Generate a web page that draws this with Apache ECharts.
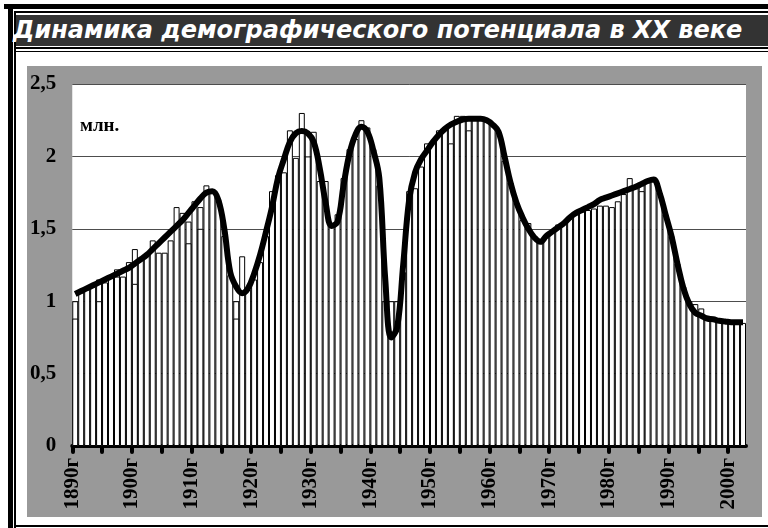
<!DOCTYPE html>
<html>
<head>
<meta charset="utf-8">
<script src="https://cdn.jsdelivr.net/npm/echarts@6/dist/echarts.min.js"></script>
<style>
  body { margin: 0; width: 768px; height: 528px; background: #fff; position: relative; overflow: hidden; }
  .ln { position: absolute; background: #000; }
  #head { position: absolute; left: 16px; top: 15px; width: 752px; height: 31px; background: #333;
          color: #fff; font: italic bold 24px "DejaVu Sans"; line-height: 31px; white-space: nowrap; }
  #head span { position: relative; left: -3px; }
  #chart { position: absolute; left: 27px; top: 66px; width: 735px; height: 451px; }
</style>
</head>
<body>
<div class="ln" style="left:4px;top:4px;width:764px;height:5px"></div>
<div class="ln" style="left:8px;top:4px;width:5px;height:524px"></div>
<div class="ln" style="left:14px;top:11px;width:754px;height:2px"></div>
<div class="ln" style="left:14px;top:11px;width:2px;height:517px"></div>
<div id="head"><span>Динамика демографического потенциала в XX веке</span></div>
<div class="ln" style="left:14px;top:47px;width:754px;height:2px"></div>
<div class="ln" style="left:14px;top:51px;width:754px;height:1px"></div>
<div class="ln" style="left:14px;top:525px;width:754px;height:2px"></div>
<div id="chart"></div>
<script>
var myChart = echarts.init(document.getElementById('chart'));

// годы 1890..2002
var years = [];
for (var y = 1890; y <= 2002; y++) years.push(y);

// высота столбцов (млн.)
var barTop = [
    1.00, 1.06, 1.08, 1.10, 1.15, 1.13, 1.17, 1.22, 1.17, 1.27,
    1.36, 1.29, 1.32, 1.42, 1.335, 1.335, 1.42, 1.65, 1.61, 1.55,
    1.69, 1.65, 1.80, 1.76, 1.70, 1.45, 1.18, 1.00, 1.31, 1.08,
    1.15, 1.27, 1.45, 1.76, 1.87, 1.89, 2.18, 1.99, 2.30, 2.17,
    2.17, 1.83, 1.83, 1.52, 1.60, 1.85, 2.05, 2.12, 2.25, 2.20,
    2.05, 1.80, 1.00, 1.00, 1.00, 1.20, 1.76, 1.78, 1.93, 2.09,
    2.10, 2.18, 2.20, 2.22, 2.28, 2.28, 2.27, 2.27, 2.26, 2.24,
    2.22, 2.17, 1.97, 1.82, 1.68, 1.56, 1.54, 1.45, 1.42, 1.44,
    1.48, 1.53, 1.54, 1.57, 1.60, 1.62, 1.63, 1.64, 1.66, 1.66,
    1.65, 1.69, 1.74, 1.85, 1.78, 1.80, 1.82, 1.83, 1.75, 1.60,
    1.45, 1.26, 1.10, 1.00, 0.98, 0.95, 0.90, 0.88, 0.87, 0.86,
    0.85, 0.85, 0.85
];

// вторые (нижние) значения в отдельные годы
var innerYears  = [1890, 1894, 1897, 1900, 1909, 1911, 1917, 1929, 1953, 1956, 1985];
var innerValues = [0.88, 1.00, 1.17, 1.12, 1.40, 1.50, 0.88, 2.00, 2.09, 2.18, 1.76];

// сглаженная кривая
var trend = [
    1.05, 1.07, 1.09, 1.11, 1.13, 1.15, 1.17, 1.19, 1.21, 1.23,
    1.26, 1.29, 1.32, 1.36, 1.40, 1.44, 1.48, 1.52, 1.56, 1.61,
    1.66, 1.71, 1.75, 1.76, 1.70, 1.50, 1.20, 1.10, 1.055, 1.09,
    1.19, 1.32, 1.48, 1.65, 1.85, 1.98, 2.10, 2.16, 2.175, 2.16,
    2.10, 1.92, 1.68, 1.52, 1.55, 1.80, 2.02, 2.15, 2.205, 2.17,
    2.04, 1.85, 1.15, 0.75, 0.82, 1.25, 1.70, 1.89, 1.98, 2.04,
    2.10, 2.15, 2.19, 2.22, 2.24, 2.255, 2.26, 2.26, 2.26, 2.25,
    2.22, 2.17, 2.00, 1.82, 1.68, 1.58, 1.50, 1.44, 1.41, 1.45,
    1.48, 1.51, 1.54, 1.58, 1.61, 1.63, 1.65, 1.67, 1.70, 1.715,
    1.73, 1.745, 1.76, 1.775, 1.79, 1.81, 1.83, 1.84, 1.75, 1.60,
    1.45, 1.26, 1.09, 0.98, 0.92, 0.90, 0.88, 0.875, 0.865, 0.86,
    0.855, 0.855, 0.855
];

var tickYears  = [1890, 1895, 1900, 1905, 1910, 1915, 1920, 1925, 1930, 1935, 1940, 1945,
                  1950, 1955, 1960, 1965, 1970, 1975, 1980, 1985, 1990, 1995, 2000];
var labelYears = [1890, 1900, 1910, 1920, 1930, 1940, 1950, 1960, 1970, 1980, 1990, 2000];

var innerData = years.map(function (yr) {
    var i = innerYears.indexOf(yr);
    return i < 0 ? null : innerValues[i];
});

var serif = '"Liberation Serif", "Times New Roman", serif';
var barStyle = { color: '#fff', borderColor: '#000', borderWidth: 1 };

option = {
    backgroundColor: '#999999',
    animation: false,
    title: {
        text: 'млн.',
        left: 53,
        top: 51,
        padding: 0,
        textStyle: { fontFamily: serif, fontWeight: 'bold', fontSize: 19, color: '#000' }
    },
    grid: {
        left: 45, top: 18, width: 674, height: 362,
        show: true, backgroundColor: '#fff', borderWidth: 0
    },
    xAxis: [
        {
            type: 'category',
            data: years,
            position: 'top',
            boundaryGap: true,
            axisLine: { lineStyle: { color: '#000', width: 1.5 } },
            axisTick: { show: false },
            axisLabel: { show: false }
        },
        {
            type: 'value',
            position: 'bottom',
            min: 1890,
            max: 2003,
            axisLine: { onZero: false, lineStyle: { color: '#000', width: 4 } },
            axisTick: {
                customValues: tickYears,
                length: 6,
                lineStyle: { color: '#000', width: 4, cap: 'round' }
            },
            axisLabel: {
                customValues: labelYears,
                rotate: 90,
                margin: 12,
                formatter: function (v) { return v + 'г'; },
                fontFamily: serif,
                fontWeight: 'bold',
                fontSize: 21,
                color: '#000'
            },
            splitLine: { show: false }
        }
    ],
    yAxis: {
        type: 'value',
        min: 0,
        max: 2.5,
        interval: 0.5,
        axisLine: { show: false },
        axisTick: { show: false },
        splitLine: { lineStyle: { color: '#4d4d4d', width: 1 } },
        axisLabel: {
            margin: 16,
            formatter: function (v) { return String(v).replace('.', ','); },
            fontFamily: serif,
            fontWeight: 'bold',
            fontSize: 21,
            color: '#000'
        }
    },
    series: [
        {
            name: 'top',
            type: 'bar',
            xAxisIndex: 0,
            data: barTop,
            barCategoryGap: '0%',
            barGap: '-100%',
            itemStyle: barStyle
        },
        {
            name: 'inner',
            type: 'bar',
            xAxisIndex: 0,
            data: innerData,
            barCategoryGap: '0%',
            barGap: '-100%',
            itemStyle: barStyle
        },
        {
            name: 'trend',
            type: 'line',
            xAxisIndex: 0,
            data: trend,
            smooth: 0.4,
            showSymbol: false,
            lineStyle: { color: '#000', width: 6 }
        }
    ]
};

myChart.setOption(option);
</script>
</body>
</html>
